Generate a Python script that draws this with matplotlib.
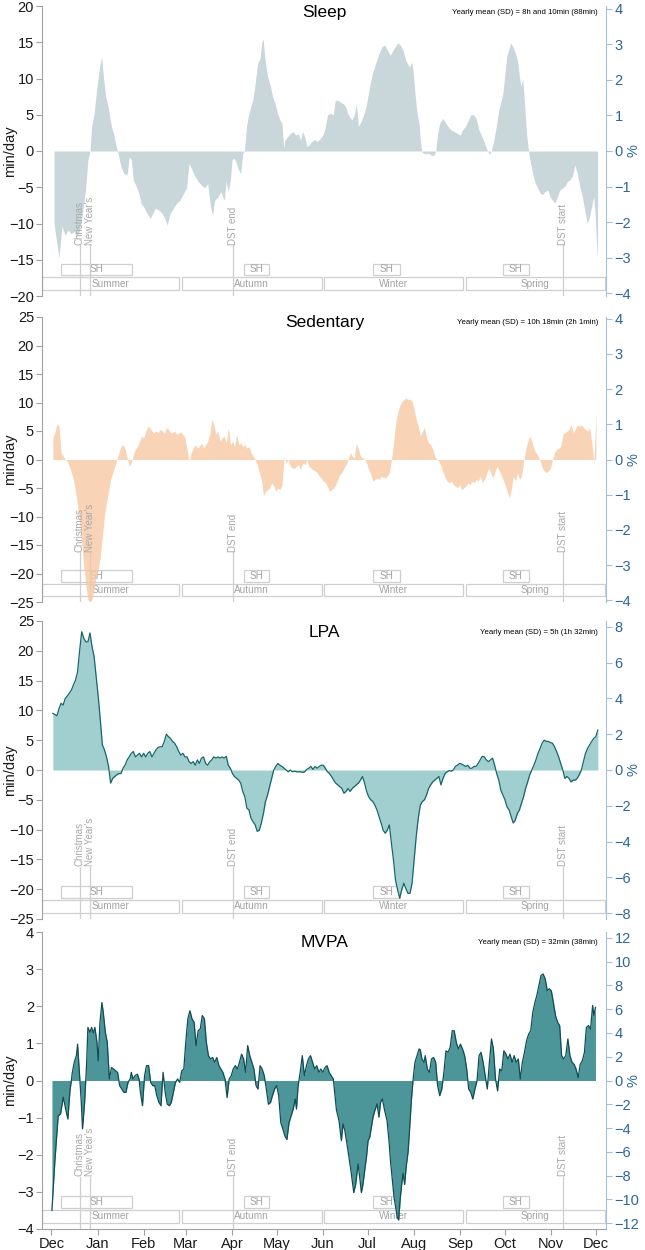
import numpy as np
import matplotlib
matplotlib.use('Agg')
import matplotlib.pyplot as plt
import matplotlib.transforms as mtransforms
from matplotlib.patches import Rectangle

plt.rcParams['font.family'] = ['Liberation Sans', 'DejaVu Sans']

# x axis: days counted from 1 December
month_labels = ['Dec', 'Jan', 'Feb', 'Mar', 'Apr', 'May', 'Jun',
                'Jul', 'Aug', 'Sep', 'Oct', 'Nov', 'Dec']
month_days = [0, 31, 62, 90, 121, 151, 182, 212, 243, 274, 304, 335, 365]

event_names = ['Christmas', "New Year's", 'DST end', 'DST start']
event_days = [19.0, 26.1, 122.0, 343.0]

sh_start = [6.4, 129.2, 215.6, 302.7]
sh_end = [54.2, 145.9, 233.5, 320.1]

season_names = ['Summer', 'Autumn', 'Winter', 'Spring']
season_start = [-6.0, 87.3, 182.6, 277.7]
season_end = [85.8, 181.3, 275.9, 371.0]

# Sleep (min/day deviation from yearly mean)
sleep_days = [1.8, 5.1, 7.1, 9.3, 11.3, 13.2, 15.4, 17.0, 18.7, 20.9, 22.9, 24.5, 25.9, 27.0, 28.7,
              30.6, 32.3, 33.7, 34.8, 36.4, 38.1, 39.2, 40.3, 41.7, 43.1, 44.7, 46.7, 48.6, 50.8,
              52.2, 53.6, 55.0, 56.9, 58.6, 60.2, 61.9, 64.1, 66.3, 68.0, 69.6, 71.6, 73.5, 75.4,
              77.7, 79.6, 81.8, 84.0, 86.2, 88.7, 90.6, 92.3, 94.3, 96.2, 98.4, 100.6, 102.8,
              104.8, 106.7, 108.1, 109.5, 111.7, 113.6, 115.9, 117.2, 118.6, 120.0, 121.1, 122.5,
              124.1, 125.5, 126.9, 128.3, 129.4, 130.8, 132.2, 133.6, 135.0, 136.6, 138.3, 139.9,
              141.0, 141.9, 143.3, 144.9, 146.9, 148.3, 149.9, 151.6, 153.2, 154.6, 155.7, 156.5,
              158.5, 160.1, 162.1, 163.7, 165.4, 167.1, 168.4, 169.8, 171.2, 172.6, 174.5, 176.5,
              178.1, 180.1, 182.0, 183.4, 185.1, 187.0, 189.0, 190.3, 192.0, 193.9, 195.9, 197.5,
              198.6, 200.0, 201.4, 203.1, 204.4, 205.8, 207.7, 209.7, 211.3, 213.3, 215.2, 217.4,
              219.7, 221.6, 223.5, 225.2, 227.1, 228.5, 230.4, 232.4, 234.0, 235.7, 237.4, 239.0,
              240.4, 241.5, 242.3, 243.7, 245.1, 246.5, 247.3, 248.4, 250.6, 252.6, 254.8, 256.2,
              257.6, 258.9, 260.3, 262.3, 263.9, 265.9, 267.8, 270.0, 272.2, 274.2, 275.6, 277.5,
              279.2, 281.1, 283.0, 284.7, 286.6, 288.6, 290.5, 292.2, 293.8, 294.9, 296.6, 298.2,
              299.9, 301.3, 302.7, 303.8, 305.2, 306.5, 307.9, 309.3, 311.0, 312.6, 313.7, 314.8,
              315.9, 317.0, 318.5, 319.8, 321.2, 322.6, 324.3, 325.9, 327.6, 329.2, 330.9, 332.8,
              334.2, 335.9, 337.5, 339.2, 340.8, 342.5, 344.1, 345.9, 347.5, 349.2, 350.9, 352.5,
              354.2, 355.9, 357.5, 359.2, 360.8, 362.5, 363.6, 364.4, 365.3, 366.1]
sleep_vals = [-10.0, -14.8, -10.4, -11.6, -10.9, -11.4, -11.1, -11.8, -11.1, -8.6, -5.4, -1.2, 0.0,
              3.4, 5.2, 8.9, 11.6, 13.0, 10.5, 7.5, 6.1, 4.7, 3.4, 2.4, 1.0, -0.3, -2.2, -3.1, -3.3,
              -0.8, -1.2, -4.0, -4.9, -5.8, -7.2, -7.7, -8.6, -9.3, -8.6, -7.9, -8.1, -8.4, -9.0,
              -10.2, -8.6, -7.9, -7.2, -6.8, -5.8, -5.1, -1.7, -2.6, -3.5, -4.2, -4.7, -5.1, -4.5,
              -7.7, -8.8, -6.8, -6.3, -5.6, -6.8, -4.2, -5.6, -4.0, -1.2, -1.0, -1.7, -2.6, -3.1,
              -0.3, 0.0, 3.4, 5.0, 6.1, 7.0, 9.3, 12.1, 12.8, 14.9, 15.5, 12.5, 10.3, 8.9, 7.5, 6.6,
              5.2, 4.3, 3.8, 0.4, 1.5, 2.0, 2.4, 2.7, 2.2, 2.4, 1.5, 2.7, 2.0, 0.6, 0.8, 1.3, 1.6,
              1.3, 1.7, 2.2, 3.1, 5.0, 5.2, 5.0, 7.0, 7.0, 6.7, 6.5, 6.0, 5.2, 4.7, 4.3, 5.0, 6.5,
              3.4, 4.1, 5.2, 6.5, 8.9, 10.7, 12.1, 13.5, 14.4, 14.6, 13.9, 13.2, 13.7, 14.4, 14.9,
              14.6, 13.9, 12.6, 11.9, 11.6, 12.3, 11.4, 8.0, 5.2, 3.8, 1.5, -0.2, -0.4, -0.3, -0.6,
              -0.6, -0.1, 2.4, 3.8, 4.5, 4.0, 3.4, 2.9, 2.7, 2.4, 2.2, 2.9, 3.4, 4.1, 5.0, 5.0, 4.5,
              2.9, 2.0, 1.0, 0.1, -0.5, 0.1, 1.5, 3.4, 5.7, 6.8, 8.0, 10.3, 13.0, 13.9, 14.9, 14.4,
              13.5, 12.3, 10.3, 8.9, 10.0, 7.0, 2.4, 0.0, -1.7, -3.1, -4.4, -5.1, -5.8, -6.0, -5.6,
              -5.4, -6.3, -6.8, -7.2, -6.3, -5.4, -5.1, -4.9, -4.2, -4.0, -3.5, -1.9, -3.1, -4.9,
              -6.3, -8.1, -10.0, -9.0, -7.2, -6.3, -8.6, -12.3, -14.8]

# Sedentary: evenly spaced readings from day 1 to day 365
sed_first, sed_last = 1.0, 365.0
sed_vals = [3.9, 4.7, 6.3, 5.8, 1.2, 0.6, 0.0, -0.3, -1.2, -2.3, -3.5, -5.6, -8.2, -11.1, -14.6,
            -18.7, -22.2, -24.6, -24.9, -24.6, -22.8, -20.5, -19.3, -17.0, -13.5, -9.9, -7.6,
            -5.6, -3.5, -2.3, -1.2, 0.0, 1.2, 2.3, 2.6, 1.8, 0.3, -1.2, -0.6, 0.9, 1.8, 2.3, 3.2,
            4.1, 3.8, 5.0, 5.8, 5.6, 5.0, 4.7, 5.0, 4.7, 5.3, 5.0, 4.6, 5.6, 5.3, 4.7, 4.7, 5.0,
            4.4, 4.7, 4.8, 4.4, 3.8, 1.8, -0.3, 1.2, 2.0, 2.6, 2.0, 2.3, 2.9, 2.0, 2.6, 3.2, 4.4,
            7.0, 6.1, 4.4, 5.0, 3.2, 3.8, 4.1, 2.9, 5.6, 2.6, 3.2, 2.3, 4.4, 2.6, 2.9, 2.3, 2.6,
            2.0, 2.3, 1.2, 0.6, 0.0, -0.9, -2.3, -3.5, -6.4, -5.6, -5.3, -5.0, -4.1, -4.7, -5.6,
            -5.0, -5.3, -4.4, 0.6, -0.6, 0.0, -1.2, -1.5, -1.5, -1.2, -0.9, -1.8, -0.6, -0.9, 0.0,
            -1.2, -1.5, -1.8, -2.0, -2.3, -2.9, -3.2, -3.8, -4.1, -4.7, -5.6, -5.3, -5.0, -4.4,
            -3.5, -2.6, -2.3, -1.5, -0.9, 0.0, 1.2, 0.6, 0.3, 2.9, 1.8, 0.6, 0.3, 0.0, -0.6, -1.8,
            -2.6, -3.8, -3.5, -3.2, -3.5, -2.9, -3.2, -3.2, -2.9, -2.3, 0.0, 2.9, 6.4, 8.2, 9.4,
            10.2, 10.5, 10.8, 10.5, 10.6, 10.2, 8.8, 7.0, 5.8, 4.1, 5.0, 5.6, 3.8, 2.9, 2.6, 1.8,
            0.6, 0.0, -0.3, -1.2, -2.3, -3.2, -3.8, -4.1, -3.8, -4.4, -4.7, -5.0, -4.4, -5.3,
            -5.0, -4.7, -4.1, -4.4, -3.8, -4.1, -3.5, -3.8, -2.9, -4.1, -3.5, -2.6, -1.5, -2.3,
            -3.2, -2.3, -1.2, -1.8, -2.6, -3.5, -4.4, -5.6, -6.7, -5.3, -2.9, -3.8, -2.3, -3.5,
            -2.9, -0.3, 1.8, 3.2, 4.1, 3.2, 1.8, 1.2, 0.6, -0.3, -1.5, -2.0, -2.3, -2.0, -1.5, 0.0,
            1.2, 1.8, 2.0, 2.3, 4.4, 4.7, 5.0, 5.3, 6.1, 4.7, 5.3, 6.1, 5.8, 6.1, 5.6, 5.3, 5.0,
            5.6, 2.9, -0.6, 8.2]

# LPA: evenly spaced readings from day 1 to day 366.3
lpa_first, lpa_last = 1.0, 366.3
lpa_vals = [9.5, 9.3, 9.1, 10.3, 11.2, 10.9, 12.0, 12.4, 12.9, 13.4, 14.3, 15.1, 16.5, 20.1, 23.2,
            22.1, 21.5, 21.5, 23.0, 20.7, 19.0, 15.7, 12.3, 8.4, 4.2, 3.4, 2.2, 0.6, -2.2, -1.4,
            -1.1, -0.8, -0.6, -0.6, 0.3, 0.8, 1.7, 2.2, 2.8, 3.1, 2.2, 2.5, 2.8, 2.2, 2.8, 2.2,
            2.8, 3.1, 2.2, 2.8, 3.4, 3.8, 3.9, 3.9, 4.8, 6.0, 5.6, 5.3, 4.8, 4.5, 3.9, 3.1, 2.5,
            2.8, 2.2, 2.2, 1.4, 1.1, 1.4, 0.8, 1.7, 1.1, 2.0, 2.2, 1.1, 0.8, 1.4, 1.7, 2.2, 2.0,
            2.2, 2.0, 2.2, 2.0, 2.3, 0.8, 0.3, -0.6, -1.1, -1.4, -1.7, -2.2, -3.6, -4.5, -6.4,
            -6.7, -8.1, -8.7, -9.2, -10.3, -10.1, -8.9, -7.3, -5.3, -4.2, -2.8, -1.4, 0.0, 0.6,
            1.1, 0.8, 0.6, 0.3, 0.0, -0.3, 0.0, -0.3, -0.2, -0.3, -0.3, -0.3, -0.4, -0.3, 0.1,
            0.3, 0.6, 0.1, 0.6, 0.3, 0.6, 0.8, 0.8, 0.3, -0.3, -0.6, -1.1, -1.7, -2.2, -2.5, -2.8,
            -3.1, -3.9, -3.6, -3.1, -3.6, -3.1, -2.8, -2.5, -2.2, -1.7, -1.1, -2.2, -3.6, -4.5,
            -5.0, -5.3, -5.9, -6.7, -7.8, -8.9, -10.1, -10.6, -10.1, -9.2, -12.3, -15.1, -18.5,
            -20.1, -21.5, -20.1, -19.0, -19.9, -20.7, -20.7, -19.0, -15.1, -11.2, -8.1, -5.9,
            -5.3, -5.0, -4.2, -3.1, -2.5, -2.0, -1.7, -1.4, -1.1, -2.5, -1.4, -0.6, -0.3, -0.1,
            -0.2, 0.0, 0.6, 0.8, 1.1, 1.0, 0.8, 0.6, 0.8, 0.3, 0.3, 0.6, 0.6, 1.1, 1.7, 2.3, 2.2,
            1.7, 1.4, 1.7, 2.0, 0.8, -0.6, -1.7, -3.4, -4.2, -5.0, -6.2, -6.7, -7.8, -8.9, -8.4,
            -7.3, -6.7, -5.6, -4.5, -3.1, -2.0, -0.8, 0.0, 0.8, 1.7, 2.8, 3.6, 4.5, 5.0, 4.8, 4.8,
            4.6, 4.5, 3.9, 3.1, 2.2, 1.1, 0.0, -1.4, -1.1, -1.4, -2.0, -1.7, -1.7, -1.4, -0.8, 0.0,
            1.4, 2.8, 3.6, 4.2, 4.8, 5.3, 5.6, 6.7]

# MVPA
mvpa_days = [0.4, 2.4, 4.6, 6.2, 8.0, 9.8, 11.1, 12.5, 13.6, 14.0, 15.4, 16.8, 17.6, 18.7, 20.1,
             20.9, 22.3, 23.7, 24.5, 25.9, 27.0, 28.1, 29.2, 30.6, 31.4, 32.6, 33.9, 34.8, 36.2,
             37.5, 38.9, 40.3, 41.7, 43.1, 44.4, 45.8, 47.2, 48.6, 50.0, 51.4, 52.8, 53.6, 54.7,
             56.1, 57.7, 58.8, 59.7, 61.1, 62.5, 63.8, 65.2, 66.6, 68.0, 69.3, 70.7, 72.1, 73.5,
             74.9, 76.3, 77.7, 79.1, 80.4, 81.8, 83.2, 84.6, 86.0, 87.4, 88.8, 90.1, 91.5, 92.9,
             94.3, 95.7, 97.0, 98.4, 99.8, 101.2, 102.6, 103.9, 105.3, 106.7, 108.1, 109.5,
             110.9, 112.3, 113.6, 115.0, 116.4, 117.8, 119.2, 120.6, 121.9, 123.3, 124.7, 126.1,
             127.5, 128.9, 130.2, 131.6, 133.0, 134.4, 135.8, 137.2, 138.5, 139.9, 141.3, 142.7,
             144.1, 145.5, 146.9, 148.2, 149.6, 151.0, 152.4, 153.8, 155.2, 156.5, 157.9, 159.3,
             160.7, 162.1, 163.5, 164.3, 165.4, 166.8, 168.2, 169.6, 171.0, 172.3, 173.7, 175.1,
             176.5, 177.9, 179.3, 180.6, 182.0, 183.4, 184.8, 186.2, 187.6, 189.0, 190.0, 191.1,
             192.8, 194.4, 195.5, 196.7, 197.8, 199.5, 201.1, 202.7, 204.0, 205.6, 206.7, 207.8,
             208.9, 210.0, 211.2, 212.3, 213.4, 214.5, 215.6, 216.8, 218.3, 219.6, 220.6, 221.9,
             223.4, 225.0, 226.3, 227.3, 228.6, 229.7, 230.8, 231.9, 232.8, 233.5, 234.6, 235.7,
             236.8, 237.9, 239.1, 240.2, 241.3, 242.4, 243.7, 245.1, 246.5, 247.3, 248.4, 249.8,
             250.6, 252.0, 253.4, 254.8, 256.2, 257.6, 258.9, 260.3, 261.7, 263.1, 264.5, 265.9,
             267.3, 268.7, 270.0, 271.4, 272.8, 274.2, 275.6, 277.0, 278.4, 279.7, 281.1, 282.5,
             283.9, 285.3, 286.7, 288.0, 289.4, 290.8, 292.2, 293.6, 295.0, 296.3, 297.7, 299.1,
             300.5, 301.9, 303.3, 304.7, 306.0, 307.4, 308.8, 310.2, 311.6, 313.0, 314.3, 315.7,
             317.1, 318.5, 319.9, 321.3, 322.7, 324.1, 325.4, 326.8, 328.2, 329.6, 331.0, 332.4,
             333.7, 335.1, 336.5, 337.9, 339.3, 340.7, 342.0, 343.4, 344.8, 346.2, 347.6, 349.0,
             350.3, 351.7, 353.1, 354.5, 355.9, 357.3, 358.6, 360.0, 361.4, 362.8, 363.6, 364.7]
mvpa_vals = [-3.5, -2.16, -0.95, -0.9, -0.45, -0.81, -1.04, -0.27, 0.05, 0.2, 0.5, 0.67, 0.98, 0.3,
             -0.6, -1.3, -0.6, 0.5, 1.43, 1.3, 1.43, 1.28, 1.43, 1.03, 0.53, 1.57, 2.1, 1.84, 1.3,
             1.03, 0.04, 0.35, 0.31, 0.26, 0.22, -0.14, -0.23, -0.32, -0.32, -0.05, 0.04, 0.22,
             0.04, 0.13, 0.17, 0.04, -0.32, -0.68, 0.13, 0.4, 0.4, -0.05, -0.14, -0.14, -0.41,
             -0.59, -0.68, 0.22, -0.32, -0.64, -0.68, -0.59, -0.32, -0.05, 0.04, -0.05, 0.26,
             0.31, 1.03, 1.66, 1.88, 1.66, 1.57, 0.94, 1.34, 1.39, 1.75, 1.66, 1.03, 0.67, 0.58,
             0.62, 0.49, 0.62, 0.4, 0.31, 0.22, 0.04, -0.46, 0.04, 0.13, 0.31, 0.4, 0.31, 0.49,
             0.71, 0.58, 0.22, 0.94, 0.67, 0.49, 0.31, -0.14, -0.23, 0.4, 0.31, 0.13, -0.23,
             -0.64, -0.59, -0.41, -0.23, -0.14, -0.41, -1.14, -1.31, -1.49, -1.59, -1.14, -0.95,
             -0.77, -0.5, -0.77, -0.14, 0.22, 0.67, 0.13, 0.4, 0.58, 0.67, 0.49, 0.31, 0.4, 0.22,
             0.31, 0.22, 0.35, 0.4, 0.22, 0.13, 0.04, -0.36, -0.8, -1.08, -1.62, -1.17, -1.35,
             -1.62, -2.07, -2.52, -3.02, -2.79, -2.25, -2.61, -3.02, -2.79, -2.43, -2.07, -1.62,
             -1.53, -1.26, -0.99, -0.81, -0.63, -0.99, -0.59, -0.5, -0.81, -1.08, -1.62, -2.16,
             -2.7, -3.15, -3.42, -3.69, -3.76, -3.33, -2.88, -2.5, -2.8, -2.3, -1.93, -1.26, -0.54,
             0.0, 0.49, 0.67, 0.85, 0.83, 0.58, 0.49, 0.67, 0.31, 0.22, 0.58, 0.62, 0.49, -0.14,
             -0.41, -0.23, 0.22, 0.8, 0.76, 0.89, 1.34, 1.34, 1.03, 0.85, 0.98, 0.85, 0.67, 0.31,
             -0.23, -0.32, -0.5, -0.23, -0.01, 0.67, 0.76, 0.49, 0.13, -0.23, 0.49, 1.12, 0.85,
             0.04, -0.28, 0.31, 0.26, 0.8, 0.71, 0.58, 0.71, 0.49, 0.67, 0.49, 0.58, 0.04, 0.49,
             0.76, 1.07, 1.25, 1.34, 1.84, 2.1, 2.29, 2.56, 2.83, 2.87, 2.74, 2.42, 2.47, 2.42,
             2.1, 1.75, 1.57, 1.48, 0.67, 0.58, 0.67, 1.12, 0.67, 0.49, 0.44, 0.31, 0.08, 0.44,
             0.53, 0.76, 1.43, 1.48, 1.39, 2.02, 1.75, 1.97]

panel_titles = ['Sleep', 'Sedentary', 'LPA', 'MVPA']
mean_texts = ['Yearly mean (SD) = 8h and 10min (88min)',
              'Yearly mean (SD) = 10h 18min (2h 1min)',
              'Yearly mean (SD) = 5h (1h 32min)',
              'Yearly mean (SD) = 32min (38min)']
mean_minutes = [490, 618, 300, 32]
y_limits = [(-20, 20), (-25, 25), (-25, 25), (-4, 4)]
y_steps = [5, 5, 5, 1]
pct_ticks = [np.arange(-4, 5, 1), np.arange(-4, 5, 1), np.arange(-8, 9, 2), np.arange(-12, 13, 2)]

series_x = [np.array(sleep_days),
            np.linspace(sed_first, sed_last, len(sed_vals)),
            np.linspace(lpa_first, lpa_last, len(lpa_vals)),
            np.array(mvpa_days)]
series_y = [np.array(sleep_vals), np.array(sed_vals), np.array(lpa_vals), np.array(mvpa_vals)]

# style per panel
fill_colors = ['#c9d7db', '#f7c9a3', '#a1cfd0', '#4c9599']
fill_alpha = [1.0, 0.8, 1.0, 1.0]
edge_colors = [None, None, '#17666a', '#104d55']

# axes rectangles in figure fractions (left, bottom, width, height)
axes_rects = [(0.0657, 0.7632, 0.8744, 0.2320),
              (0.0657, 0.5184, 0.8744, 0.2280),
              (0.0657, 0.2648, 0.8744, 0.2384),
              (0.0657, 0.0168, 0.8744, 0.2376)]
title_y = [0.976, 0.980, 0.963, 0.963]

light = '#cfcfcf'
blue_txt = '#2b679b'
blue_ax = '#a6c0d8'

fig = plt.figure(figsize=(6.45, 12.5), dpi=100)

for i in range(4):
    ax = fig.add_axes(axes_rects[i])
    ax.set_xlim(-6.0, 372.0)
    ax.set_ylim(*y_limits[i])
    lo, hi = y_limits[i]
    ax.set_yticks(np.arange(lo, hi + 0.1, y_steps[i]))

    trans = mtransforms.blended_transform_factory(ax.transData, ax.transAxes)

    # season and school holiday boxes
    for s, e, name in zip(season_start, season_end, season_names):
        ax.add_patch(Rectangle((s, 0.021), e - s, 0.043, transform=trans,
                               fc='none', ec=light, lw=0.9, zorder=1))
        ax.text((s + e) / 2, 0.0425, name, transform=trans, ha='center', va='center',
                fontsize=7.2, color='#a3a3a3', zorder=1)
    for s, e in zip(sh_start, sh_end):
        ax.add_patch(Rectangle((s, 0.071), e - s, 0.041, transform=trans,
                               fc='none', ec=light, lw=0.9, zorder=1))
        ax.text((s + e) / 2, 0.0915, 'SH', transform=trans, ha='center', va='center',
                fontsize=7.2, color='#a3a3a3', zorder=1)

    # event markers
    for d, name in zip(event_days, event_names):
        ax.plot([d, d], [0, 0.175], transform=trans, color=light, lw=0.9, zorder=1)
        ax.text(d, 0.177, name, transform=trans, rotation=90, ha='center', va='bottom',
                fontsize=7, color='#a8a8a8', zorder=5)

    x = series_x[i]
    y = series_y[i]
    ax.fill_between(x, y, 0, color=fill_colors[i], alpha=fill_alpha[i], lw=0,
                    interpolate=True, zorder=3)
    if edge_colors[i] is not None:
        ax.plot(x, y, color=edge_colors[i], lw=0.9, zorder=4)

    ax.text(0.5, title_y[i], panel_titles[i], transform=ax.transAxes, ha='center',
            va='center', fontsize=12.5, color='black')
    ax.text(0.985, title_y[i], mean_texts[i], transform=ax.transAxes, ha='right',
            va='center', fontsize=5.6, color='black')

    # spines and axes
    for side in ['top', 'right']:
        ax.spines[side].set_visible(False)
    ax.spines['left'].set_color('#a0a0a0')
    ax.spines['left'].set_linewidth(0.8)
    ax.tick_params(axis='y', direction='out', length=4, width=0.8, color='#a0a0a0',
                   labelsize=10.5, labelcolor='#1a1a1a', pad=2)
    ax.text(-0.0575, 0.5, 'min/day', transform=ax.transAxes, rotation=90, ha='center',
            va='center', fontsize=10.5, color='#1a1a1a')

    if i == 3:
        ax.spines['bottom'].set_color('#a0a0a0')
        ax.spines['bottom'].set_linewidth(0.8)
        ax.set_xticks(month_days)
        ax.set_xticklabels(month_labels)
        ax.tick_params(axis='x', direction='out', length=4, width=0.8, color='#a0a0a0',
                       labelsize=10.5, labelcolor='#1a1a1a', pad=2)
    else:
        ax.spines['bottom'].set_visible(False)
        ax.set_xticks([])

    m = mean_minutes[i]
    sec = ax.secondary_yaxis('right', functions=(lambda v, m=m: v * 100.0 / m,
                                                 lambda p, m=m: p * m / 100.0))
    sec.set_yticks(pct_ticks[i])
    sec.spines['right'].set_color(blue_ax)
    sec.spines['right'].set_linewidth(0.8)
    sec.tick_params(axis='y', direction='out', length=4, width=0.8, color=blue_ax,
                    labelsize=10.5, labelcolor=blue_txt, pad=2)
    ax.text(1.049, 0.5, '%', transform=ax.transAxes, rotation=90, ha='center',
            va='center', fontsize=10.5, color=blue_txt)

fig.savefig('out.png', dpi=100)
